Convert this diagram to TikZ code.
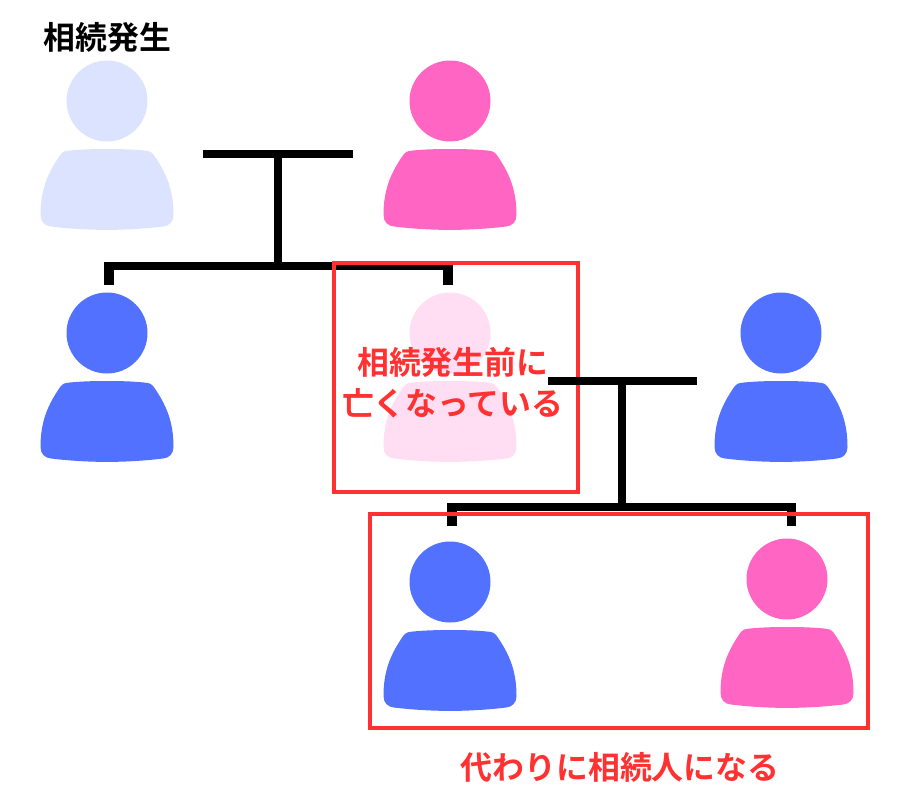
\documentclass[tikz,border=0pt]{standalone}
\usepackage{xcolor}
\usepackage{fontspec}
\setmainfont{Noto Sans CJK JP}[BoldFont={* Bold}]
\usepackage{tikz}
\usetikzlibrary{positioning,calc}

\definecolor{heirblue}{HTML}{5271FF}
\definecolor{heirpink}{HTML}{FF66C4}
\definecolor{fadeblue}{HTML}{DCE3FF}
\definecolor{fadepink}{HTML}{FFDDF3}
\definecolor{framered}{HTML}{FF3131}

\tikzset{
    person/.pic={
        \node [circle, fill=#1, minimum size=60.75pt, inner sep=0pt] (-head) at (0,0) {};
        \fill [#1] (0,48) .. controls (15,48) and (30,48.5) .. (41,50)
            .. controls (45,50.7) and (47,54) .. (49.5,58)
            .. controls (60,74) and (66.5,90) .. (66.5,114)
            .. controls (66.5,121) and (62,125) .. (56,125.5)
            .. controls (36,128) and (15,128.9) .. (0,128.9)
            .. controls (-15,128.9) and (-36,128) .. (-56,125.5)
            .. controls (-62,125) and (-66.5,121) .. (-66.5,114)
            .. controls (-66.5,90) and (-60,74) .. (-49.5,58)
            .. controls (-47,54) and (-45,50.7) .. (-41,50)
            .. controls (-30,48.5) and (-15,48) .. (0,48) -- cycle;
    }
}

\begin{document}
\begin{tikzpicture}[x=0.75pt, y=-0.75pt]
    \tikzstyle{famline} = [line width=6pt]
    \tikzstyle{famdrop} = [line width=7pt]
    \tikzstyle{redframe} = [draw=framered, line width=3pt]
    \tikzstyle{redlabel} = [text=framered, font=\fontsize{23.9pt}{31pt}\selectfont\bfseries, align=center, inner sep=0pt]
    \useasboundingbox (0,0) rectangle (910,800);

    % people
    \pic (decedent) at (107,101) {person=fadeblue};
    \pic (spouse) at (450,101) {person=heirpink};
    \pic (child) at (107,333) {person=heirblue};
    \pic (deadchild) at (450,333) {person=fadepink};
    \pic (inlaw) at (781,333) {person=heirblue};
    \pic (grandson) at (450,582) {person=heirblue};
    \pic (granddaughter) at (787,579) {person=heirpink};

    % first couple and their children
    \coordinate (barL) at (203.3,153.5);
    \coordinate (barR) at (353.3,153.5);
    \coordinate (barM) at (278.3,153.5);
    \coordinate (kidsL) at (104.3,266);
    \coordinate (kidsM) at (278.3,266);
    \coordinate (kidsR) at (452.5,266);
    \coordinate (dropL) at (109,285);
    \coordinate (dropR) at (448,285);
    \draw [famline] (barL) -- (barR);
    \draw [famline] (barM) -- (kidsM);
    \draw [famline] (kidsL) -- (kidsR);
    \draw [famdrop] (dropL) -- (dropL |- kidsL);
    \draw [famdrop] (dropR) -- (dropR |- kidsR);

    \node [redframe, minimum width=183pt, minimum height=171.3pt, inner sep=0pt] (deadframe) at (456.3,377.5) {};

    % second couple and their children
    \coordinate (bar2L) at (548,381);
    \coordinate (bar2R) at (697,381);
    \coordinate (bar2M) at (622.3,381);
    \coordinate (kids2L) at (447.3,506.5);
    \coordinate (kids2M) at (622.3,506.5);
    \coordinate (kids2R) at (796,506.5);
    \coordinate (drop2L) at (452,526);
    \coordinate (drop2R) at (791.3,526);
    \draw [famline] (bar2L) -- (bar2R);
    \draw [famline] (bar2M) -- (kids2M);
    \draw [famline] (kids2L) -- (kids2R);
    \draw [famdrop] (drop2L) -- (drop2L |- kids2L);
    \draw [famdrop] (drop2R) -- (drop2R |- kids2R);

    \node [redframe, minimum width=373.6pt, minimum height=161.1pt, inner sep=0pt] (heirframe) at (618.9,620.9) {};

    % labels
    \node [font=\fontsize{23.9pt}{31pt}\selectfont\bfseries, inner sep=0pt] (title) at (107.5,37) {相続発生};
    \node [redlabel] (deadnote) at (452.8,383) {相続発生前に\\[-0.5pt]亡くなっている};
    \node [redlabel] (heirnote) at (620,767) {代わりに相続人になる};
\end{tikzpicture}
\end{document}
